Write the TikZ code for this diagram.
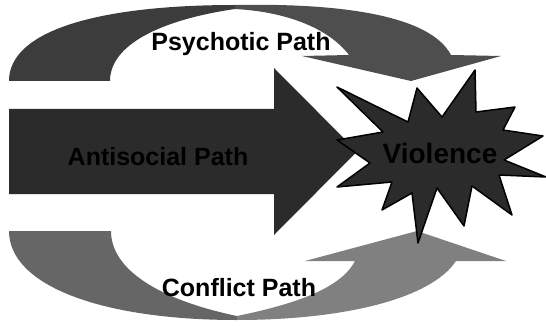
\documentclass[tikz,border=0pt]{standalone}
\usepackage{fontspec}
\setmainfont{Liberation Sans}
\definecolor{topback}{HTML}{3C3C3C}
\definecolor{topfront}{HTML}{4E4E4E}
\definecolor{mainarrow}{HTML}{2B2B2B}
\definecolor{botback}{HTML}{666666}
\definecolor{botfront}{HTML}{808080}
\tikzset{
  lbl/.style={font=\bfseries\fontsize{25}{25}\selectfont, inner sep=0pt, anchor=base, text=black},
  bigl/.style={font=\bfseries\fontsize{28}{28}\selectfont, inner sep=0pt, anchor=base, text=black},
  starshape/.style={fill=mainarrow, draw=black, line width=1.5pt, line join=round}
}
\begin{document}
\begin{tikzpicture}[x=1pt,y=-1pt]
\useasboundingbox (0,0) rectangle (546,326);
% top curved arrow (back part)
\fill[topback] (9,81) -- (110,81) .. controls (110,45) and (160,20) .. (235,9)
  -- (235,5) .. controls (100,5) and (9,30) .. (9,81) -- cycle;
% top curved arrow (front part)
\fill[topfront] (235,5) .. controls (340,3) and (430,15) .. (451,55) -- (501,56) -- (411,81)
  -- (302,56) -- (349,55) .. controls (330,30) and (290,12) .. (235,9) -- cycle;
% bottom curved arrow (back part)
\fill[botback] (9,231) -- (111,231) .. controls (111,270) and (160,300) .. (237,316)
  -- (237,320) .. controls (100,320) and (9,285) .. (9,231) -- cycle;
% bottom curved arrow (front part)
\fill[botfront] (237,320) .. controls (340,320) and (430,300) .. (456,261) -- (506,261) -- (417,231)
  -- (305,261) -- (355,261) .. controls (340,290) and (290,305) .. (237,316) -- cycle;
% main arrow
\fill[mainarrow] (9,109) -- (274,109) -- (274,68) -- (357,151.5) -- (274,235) -- (274,194) -- (9,194) -- cycle;
% star
\path[starshape] (337,87) -- (408,122) -- (417,88) -- (442,117) -- (475,70) -- (476,112)
  -- (515,107) -- (503,130) -- (543,136) -- (504,160) -- (546,177) -- (499,175)
  -- (512,215) -- (472,186) -- (464,226) -- (437,188) -- (418,243) -- (412,193)
  -- (382,210) -- (392,182) -- (337,187) -- (370,163) -- (337,140) -- (383,132) -- cycle;
% labels
\node[lbl] (psy) at (241,51) {Psychotic Path};
\node[lbl] (anti) at (158,165) {Antisocial Path};
\node[lbl] (conf) at (239,296) {Conflict Path};
\node[bigl] (viol) at (440,163) {Violence};
\end{tikzpicture}
\end{document}
